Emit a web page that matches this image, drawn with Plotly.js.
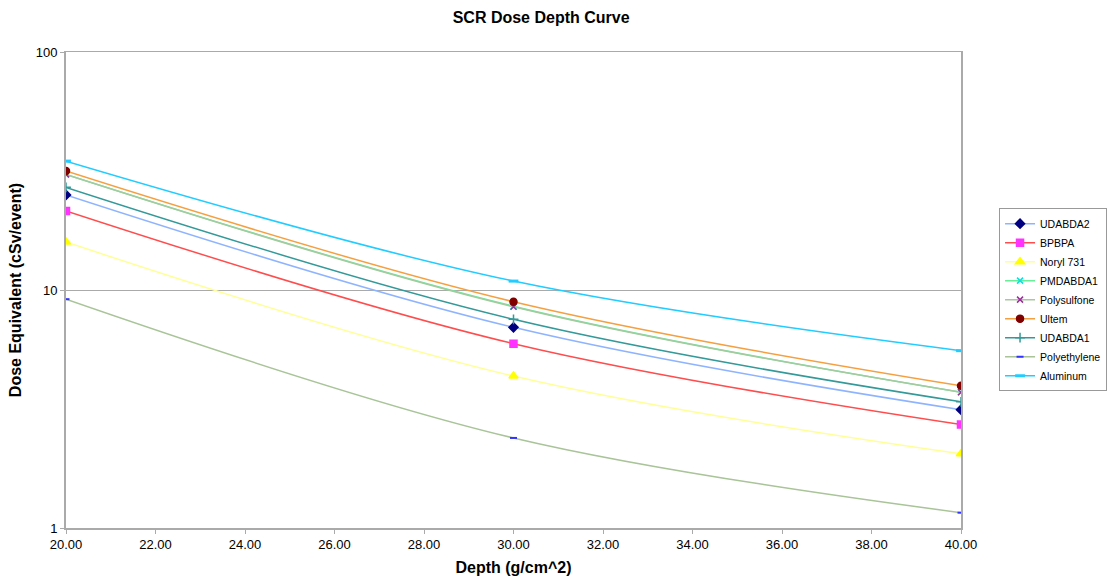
<!DOCTYPE html>
<html>
<head>
<meta charset="utf-8">
<script src="https://cdn.plot.ly/plotly-3.0.1.min.js"></script>
<style>
  html, body { margin: 0; padding: 0; background: #fff; }
  #chart { width: 1110px; height: 579px; }
</style>
</head>
<body>
<div id="chart"></div>
<script>
// Shielding depth in g/cm^2
const depth = [20, 30, 40];

// Dose equivalent (cSv/event) per material
const udabda2     = [25.1, 6.97, 3.14];
const bpbpa       = [21.5, 5.95, 2.72];
const noryl731    = [15.9, 4.35, 2.05];
const pmdabda1    = [30.6, 8.55, 3.72];
const polysulfone = [30.6, 8.5, 3.72];
const ultem       = [31.6, 8.93, 3.96];
const udabda1     = [27.0, 7.53, 3.39];
const polyethylene = [9.15, 2.39, 1.16];
const aluminum    = [34.8, 10.9, 5.56];

const xTicks = [20, 22, 24, 26, 28, 30, 32, 34, 36, 38, 40];
const xTickText = ['20.00', '22.00', '24.00', '26.00', '28.00', '30.00', '32.00', '34.00', '36.00', '38.00', '40.00'];
const yTicks = [1, 10, 100];
const yTickText = ['1', '10', '100'];

function series(name, y, lineColor, symbol, markerColor, size, extra) {
  const marker = { symbol: symbol, color: markerColor, size: size,
                   line: { color: markerColor, width: 1.5 } };
  Object.assign(marker, extra || {});
  return {
    type: 'scatter', mode: 'lines+markers', name: name,
    x: depth, y: y,
    line: { color: lineColor, width: 1.5, shape: 'spline', smoothing: 1 },
    marker: marker
  };
}

const traces = [
  series('UDABDA2', udabda2, '#8fb4ff', 'diamond', '#000080', 7),
  series('BPBPA', bpbpa, '#ff4d4d', 'square', '#ff33ff', 7),
  series('Noryl 731', noryl731, '#ffff99', 'triangle-up', '#ffff00', 8),
  series('PMDABDA1', pmdabda1, '#66ee99', 'x-thin', '#00e5e5', 6),
  series('Polysulfone', polysulfone, '#a8c8a0', 'x-thin', '#993399', 6),
  series('Ultem', ultem, '#f5a040', 'circle', '#800000', 7),
  series('UDABDA1', udabda1, '#339999', 'cross-thin', '#339999', 7),
  series('Polyethylene', polyethylene, '#a8c498', 'line-ew', '#3333ff', 5, { line: { color: '#3333ff', width: 2 } }),
  series('Aluminum', aluminum, '#22ccff', 'line-ew', '#22ccff', 7, { line: { color: '#22ccff', width: 3 } })
];

const layout = {
  width: 1110, height: 579,
  paper_bgcolor: '#ffffff', plot_bgcolor: '#ffffff',
  font: { family: 'Liberation Sans, Arial, sans-serif', color: '#000' },
  margin: { l: 66, r: 149, t: 52, b: 51, autoexpand: false },
  title: { text: '<b>SCR Dose Depth Curve</b>', font: { size: 16 },
           x: 0.4875, xanchor: 'center', y: 0.97, yanchor: 'middle' },
  showlegend: true,
  legend: {
    x: 1.0425, xanchor: 'left', y: 0.672, yanchor: 'top',
    bordercolor: '#999', borderwidth: 1, bgcolor: '#fff',
    font: { size: 10.5 }, tracegroupgap: 0
  },
  xaxis: {
    range: [20, 40], tickvals: xTicks, ticktext: xTickText,
    showgrid: false, zeroline: false,
    showline: true, linecolor: '#aaa', linewidth: 1.5, mirror: true,
    ticks: 'outside', ticklen: 4, tickcolor: '#aaa',
    tickfont: { size: 13 },
    title: { text: '<b>Depth (g/cm^2)</b>', font: { size: 16 }, standoff: 10 }
  },
  yaxis: {
    type: 'log', range: [0, 2], tickvals: yTicks, ticktext: yTickText,
    showgrid: true, gridcolor: '#aaa', gridwidth: 1, zeroline: false,
    showline: true, linecolor: '#aaa', linewidth: 2, mirror: true,
    ticks: 'outside', ticklen: 4, tickcolor: '#aaa',
    tickfont: { size: 13 },
    title: { text: '<b>Dose Equivalent (cSv/event)</b>', font: { size: 16 }, standoff: 10 }
  }
};

Plotly.newPlot('chart', traces, layout, { displayModeBar: false, staticPlot: true });
</script>
</body>
</html>
